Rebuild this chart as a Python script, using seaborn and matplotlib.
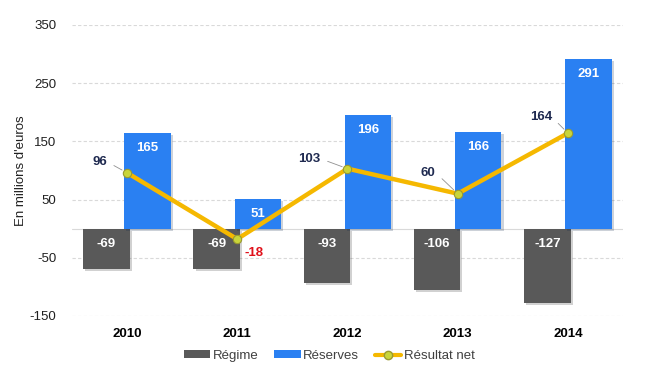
import matplotlib
matplotlib.use("Agg")
import matplotlib.pyplot as plt
import matplotlib.patheffects as pe
from matplotlib.lines import Line2D
from matplotlib.patches import Patch
import seaborn as sns
import pandas as pd

years = ["2010", "2011", "2012", "2013", "2014"]
regime = [-69, -69, -93, -106, -127]
reserves = [165, 51, 196, 166, 291]
resultat = [96, -18, 103, 60, 164]
yticks = [-150, -50, 50, 150, 250, 350]

c_grey = "#595959"
c_blue = "#2A80F2"
c_line = "#F5B800"
c_mark = "#C9D53A"
c_navy = "#1F2A50"

sns.set_theme(style="white")
plt.rcParams["font.family"] = ["Liberation Sans", "DejaVu Sans"]

df = pd.DataFrame({
    "year": years * 2,
    "value": regime + reserves,
    "serie": ["Régime"] * 5 + ["Réserves"] * 5,
})

fig = plt.figure(figsize=(6.47, 3.77), dpi=100)
ax = fig.add_axes([0.111, 0.162, 0.852, 0.772])

sns.barplot(data=df, x="year", y="value", hue="serie", order=years,
            hue_order=["Régime", "Réserves"], palette=[c_grey, c_blue],
            saturation=1, width=0.745, gap=-0.13, dodge=True, ax=ax,
            legend=False, edgecolor="none", linewidth=0, zorder=3)

for p in ax.patches:
    p.set_path_effects([pe.SimplePatchShadow(offset=(1.5, -1.5), alpha=0.2), pe.Normal()])

# bar labels
for cont in ax.containers:
    for p in cont:
        cx = p.get_x() + p.get_width() / 2
        h = p.get_height()
        y0 = p.get_y()
        top = max(y0, y0 + h)
        ax.annotate(f"{int(round(h))}",
                    xy=(cx, top), xytext=(0, -15), textcoords="offset pixels",
                    ha="center", va="center", color="white", fontsize=9.5,
                    fontweight="bold", zorder=6)

sns.pointplot(x=years, y=resultat, order=years, color=c_line, ax=ax,
              markers="o", markersize=6, linewidth=3.2, zorder=5)
for ln in ax.lines:
    ln.set_markerfacecolor(c_mark)
    ln.set_markeredgecolor("#9A9A30")
    ln.set_markeredgewidth(0.8)
    ln.set_zorder(5)

# line labels
offsets = [(-20, 11), (17, -14), (-27, 10), (-22, 21), (-16, 16)]
for i, (v, (dx, dy)) in enumerate(zip(resultat, offsets)):
    if v < 0:
        ax.annotate(f"{v}", xy=(i, v), xytext=(dx, dy), textcoords="offset pixels",
                    ha="center", va="center", color="#E0101A", fontsize=9.5,
                    fontweight="bold", zorder=7)
    else:
        ax.annotate(f"{v}", xy=(i, v), xytext=(dx, dy), textcoords="offset pixels",
                    ha="right", va="center", color=c_navy, fontsize=9.5,
                    fontweight="bold", zorder=7,
                    arrowprops=dict(arrowstyle="-", color="#909090", lw=0.6,
                                    relpos=(1, 0.5), shrinkA=3, shrinkB=4))

ax.set_ylim(-150, 350)
ax.set_xlim(-0.5, 4.5)
ax.set_yticks(yticks)
ax.set_yticklabels([str(t) for t in yticks], fontsize=9.5, color="#202020")
ax.set_xticks(range(5))
ax.set_xticklabels(years, fontsize=9.5, fontweight="bold", color="black")
ax.tick_params(axis="x", length=0, pad=9)
ax.tick_params(axis="y", length=0, pad=11)
for t in yticks:
    ax.axhline(t, color="#D9D9D9", lw=0.8, ls=(0, (3, 2)), zorder=0)
ax.axhline(0, color="#D9D9D9", lw=0.8, zorder=1)
for s in ax.spines.values():
    s.set_visible(False)
ax.set_xlabel("")
ax.set_ylabel("En millions d'euros", fontsize=9.5, color="#202020", labelpad=2)
ax.grid(False)

handles = [
    Patch(facecolor=c_grey, edgecolor="none"),
    Patch(facecolor=c_blue, edgecolor="none"),
    Line2D([0], [0], color=c_line, lw=3, marker="o", markersize=6,
           markerfacecolor=c_mark, markeredgecolor="#9A9A30"),
]
leg = fig.legend(handles, ["Régime", "Réserves", "Résultat net"], loc="center",
                 bbox_to_anchor=(0.509, 0.056), ncol=3, frameon=False, fontsize=9.5,
                 handlelength=2.0, handleheight=0.5, handletextpad=0.2,
                 columnspacing=1.2)
for t in leg.get_texts():
    t.set_color("#404040")

fig.savefig("out.png", dpi=100)
